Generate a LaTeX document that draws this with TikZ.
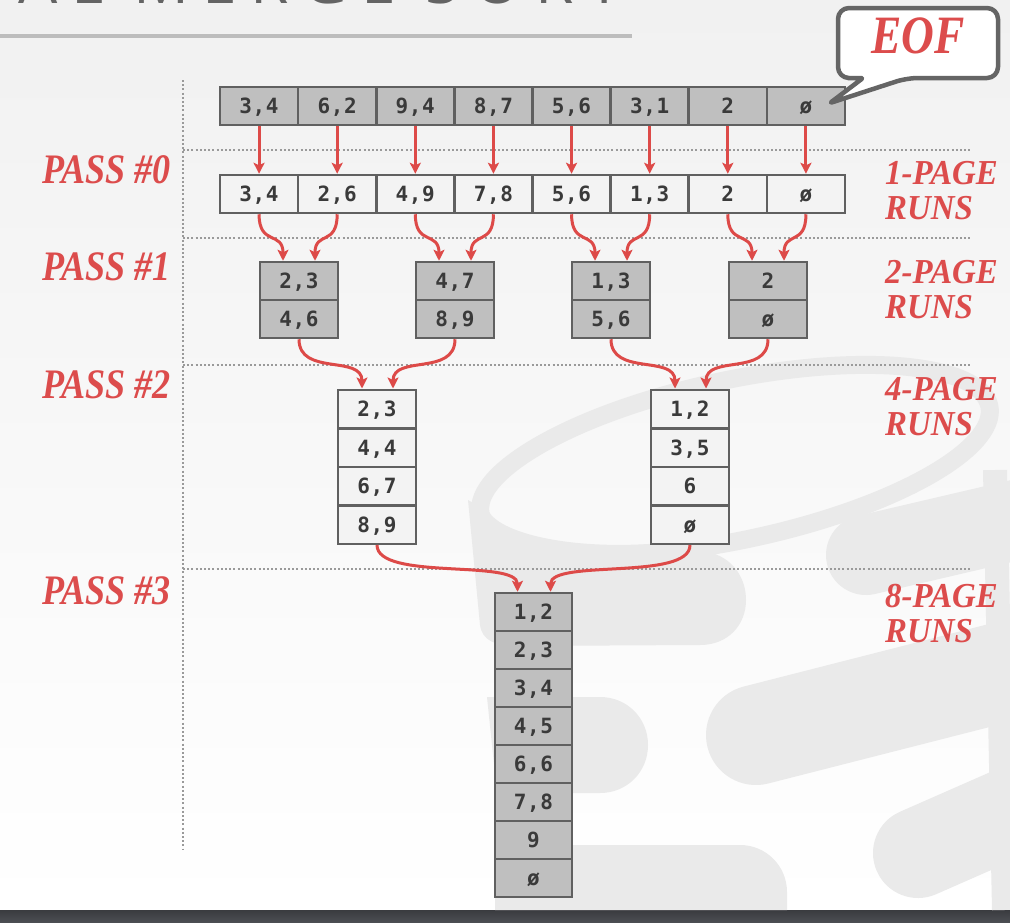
\documentclass[tikz,border=0pt]{standalone}
\usepackage{fontspec}
\usetikzlibrary{arrows.meta}
\newfontfamily\cellfont[LetterSpace=3]{DejaVu Sans Mono}
\newfontfamily\labfont{Liberation Serif}
\newfontfamily\titlefont[LetterSpace=22]{Open Sans}
\definecolor{cellgray}{HTML}{BFBFBF}
\definecolor{cellwhite}{HTML}{F3F3F3}
\definecolor{border}{HTML}{606060}
\definecolor{celltext}{HTML}{3A3A3A}
\definecolor{labred}{HTML}{DC4C4C}
\definecolor{arrred}{HTML}{DD4A48}
\definecolor{dotgray}{HTML}{9A9A9A}
\definecolor{wm}{HTML}{EAEAEA}
\definecolor{bgtop}{HTML}{F1F1F1}
\definecolor{rulegray}{HTML}{BDBDBD}
\definecolor{bartop}{HTML}{3A3B3F}
\definecolor{barbot}{HTML}{4C4E53}
\definecolor{titlegray}{HTML}{646464}
\definecolor{callgray}{HTML}{656565}
\begin{document}
\begin{tikzpicture}[x=1pt,y=-1pt,
  cell/.style={draw=border, line width=2.5pt, minimum width=78pt, minimum height=38pt,
    inner sep=0pt, text height=15.3pt, text depth=0pt, text=celltext,
    font=\cellfont\bfseries\fontsize{21}{21}\selectfont},
  gcell/.style={cell, fill=cellgray},
  wcell/.style={cell, fill=cellwhite},
  arr/.style={draw=arrred, line width=3pt, -{Stealth[length=11pt,width=11pt,inset=2.5pt]}},
  dots/.style={draw=dotgray, line width=2pt, dash pattern=on 2pt off 2.2pt},
  passlab/.style={text=labred, font=\labfont\bfseries\itshape\fontsize{42}{42}\selectfont,
    anchor=base east, inner sep=0pt, xscale=0.86},
  runlab/.style={text=labred, font=\labfont\bfseries\itshape\fontsize{35}{35}\selectfont,
    anchor=base west, inner sep=0pt, xscale=0.94},
  wmfill/.style={fill=wm, draw=none}
]
\useasboundingbox (0,0) rectangle (1010,922);
\clip (0,0) rectangle (1010,922);
% background
\shade[top color=bgtop, bottom color=white] (0,0) rectangle (1010,910);
\shade[top color=bartop, bottom color=barbot] (0,910) rectangle (1010,922);
% watermark
\draw[wm, line width=18pt, rotate around={12:(735,460)}] (735,460) ellipse [x radius=260, y radius=80];
\fill[wmfill] (468,500) -- (489,512) .. controls (505,538) and (600,556) .. (707,537)
  -- (712,553) .. controls (735,560) and (746,580) .. (746,600)
  .. controls (746,625) and (728,645) .. (700,645) -- (515,646)
  .. controls (495,646) and (482,640) .. (480,625) -- cycle;
\fill[wmfill] (487,697) -- (600,697) .. controls (627,697) and (648,718) .. (648,745)
  .. controls (648,772) and (627,793) .. (600,793) -- (497,793) -- cycle;
\fill[wmfill] (495,845) -- (740,845) .. controls (766,845) and (787,866) .. (787,892)
  -- (787,910) -- (495,910) -- cycle;
\draw[wm, line width=80pt, line cap=round] (866,555) -- (1050,512);
\draw[wm, line width=100pt, line cap=round] (756,735) -- (1050,660);
\draw[wm, line width=90pt, line cap=round] (918,853) -- (1050,795);
\draw[wm, line width=24pt] (995,470) -- (1004,910);
% title fragment and rule
\node[anchor=base east, inner sep=0pt, text=titlegray,
  font=\titlefont\fontsize{62}{62}\selectfont] (title) at (622,3.5) {2-WAY EXTERNAL MERGE SORT};
\draw[rulegray, line width=4pt] (0,36) -- (632,36);
% dotted grid
\draw[dots] (183,80) -- (183,850);
\foreach \yy in {150,238,365,569} \draw[dots] (183,\yy) -- (970,\yy);
% input row
\foreach \t [count=\i] in {{3,4},{6,2},{9,4},{8,7},{5,6},{3,1},{2},{ø}}
  \node[gcell] (a\i) at ({259.06+78.125*(\i-1)},106) {\t};
% pass 0 output
\foreach \t [count=\i] in {{3,4},{2,6},{4,9},{7,8},{5,6},{1,3},{2},{ø}}
  \node[wcell] (b\i) at ({259.06+78.125*(\i-1)},194) {\t};
% pass 1 output
\node[gcell] (p11) at (299,281) {2,3}; \node[gcell] (p12) at (299,319) {4,6};
\node[gcell] (p21) at (455,281) {4,7}; \node[gcell] (p22) at (455,319) {8,9};
\node[gcell] (p31) at (611,281) {1,3}; \node[gcell] (p32) at (611,319) {5,6};
\node[gcell] (p41) at (768,281) {2};   \node[gcell] (p42) at (768,319) {ø};
% pass 2 output
\node[wcell, minimum height=38.5pt] (q11) at (377,409) {2,3};
\node[wcell, minimum height=38.5pt] (q12) at (377,447.5) {4,4};
\node[wcell, minimum height=38.5pt] (q13) at (377,486) {6,7};
\node[wcell, minimum height=38.5pt] (q14) at (377,524.5) {8,9};
\node[wcell, minimum height=38.5pt] (q21) at (690,409) {1,2};
\node[wcell, minimum height=38.5pt] (q22) at (690,447.5) {3,5};
\node[wcell, minimum height=38.5pt] (q23) at (690,486) {6};
\node[wcell, minimum height=38.5pt] (q24) at (690,524.5) {ø};
% pass 3 output
\foreach \t [count=\i] in {{1,2},{2,3},{3,4},{4,5},{6,6},{7,8},{9},{ø}}
  \node[gcell, minimum width=77pt] (r\i) at (533.5,{612+38*(\i-1)}) {\t};
% arrows pass 0
\foreach \i in {1,...,8} \draw[arr] (a\i.south) -- (b\i.north);
% arrows pass 1
\foreach \k in {1,2,3,4} {
  \pgfmathtruncatemacro\m{2*\k-1}
  \pgfmathtruncatemacro\n{2*\k}
  \draw[arr] (b\m.south) .. controls +(0,32) and +(0,-30) .. ([xshift=-16pt]p\k1.north);
  \draw[arr] (b\n.south) .. controls +(0,32) and +(0,-30) .. ([xshift=16pt]p\k1.north);
}
% arrows pass 2
\draw[arr] (p12.south) .. controls +(0,37) and +(0,-34) .. ([xshift=-15pt]q11.north);
\draw[arr] (p22.south) .. controls +(0,37) and +(0,-34) .. ([xshift=16pt]q11.north);
\draw[arr] (p32.south) .. controls +(0,37) and +(0,-34) .. ([xshift=-15pt]q21.north);
\draw[arr] (p42.south) .. controls +(0,37) and +(0,-34) .. ([xshift=16pt]q21.north);
% arrows pass 3
\draw[arr] (q14.south) .. controls +(0,36) and +(0,-33) .. ([xshift=-16pt]r1.north);
\draw[arr] (q24.south) .. controls +(0,36) and +(0,-33) .. ([xshift=17pt]r1.north);
% labels
\node[passlab] (pass0) at (171,183) {PASS \#0};
\node[passlab] (pass1) at (171,280) {PASS \#1};
\node[passlab] (pass2) at (171,398) {PASS \#2};
\node[passlab] (pass3) at (171,604) {PASS \#3};
\node[runlab] (run1a) at (885,184) {1-PAGE};
\node[runlab] (run1b) at (885,219) {RUNS};
\node[runlab] (run2a) at (885,283) {2-PAGE};
\node[runlab] (run2b) at (885,318) {RUNS};
\node[runlab] (run4a) at (885,400) {4-PAGE};
\node[runlab] (run4b) at (885,435) {RUNS};
\node[runlab] (run8a) at (885,607) {8-PAGE};
\node[runlab] (run8b) at (885,642) {RUNS};
% EOF callout
\draw[draw=callgray, fill=white, line width=4.5pt, line join=round, rounded corners=11pt]
  (850,78) -- (838,78) -- (838,8) -- (998,8) -- (998,78) -- (907,78)
  [rounded corners=2pt] -- (830,103) -- (863,78) -- cycle;
\node[text=labred, font=\labfont\bfseries\itshape\fontsize{54}{54}\selectfont,
  xscale=0.84, anchor=base, inner sep=0pt] (eof) at (918,53) {EOF};
\end{tikzpicture}
\end{document}
